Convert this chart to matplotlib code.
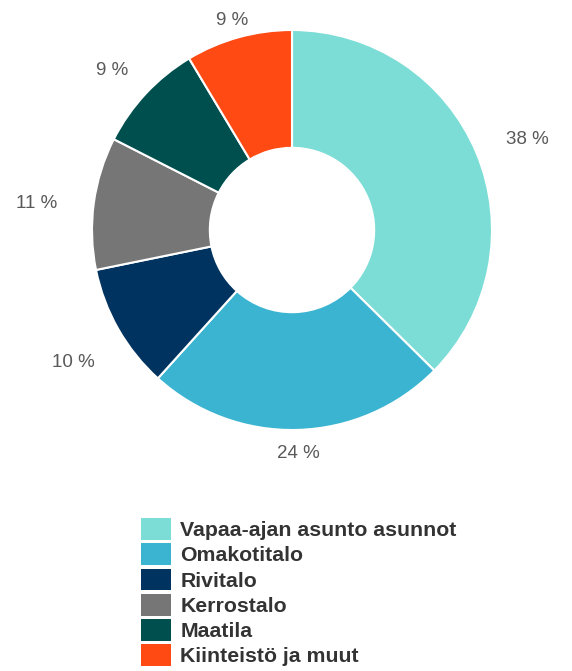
import numpy as np
import matplotlib
matplotlib.use("Agg")
from matplotlib import pyplot as plt
from matplotlib.patches import Patch

plt.rcParams['font.family'] = ['Liberation Sans', 'DejaVu Sans']

categories = ["Vapaa-ajan asunto asunnot", "Omakotitalo", "Rivitalo",
              "Kerrostalo", "Maatila", "Kiinteistö ja muut"]
shares = [37.4, 24.3, 10.1, 10.7, 8.9, 8.6]
share_labels = ["38 %", "24 %", "10 %", "11 %", "9 %", "9 %"]
colors = ["#7CDDD6", "#3BB4D1", "#00335F", "#767676", "#004F4F", "#FF4A14"]

fig = plt.figure(figsize=(5.72, 6.71), dpi=100)
W, H = 572, 671
cx, cy, R = 292, 230, 202
half = 250
ax = fig.add_axes([(cx - half) / W, (H - cy - half) / H, 2 * half / W, 2 * half / H])
lim = half / R
ax.set_xlim(-lim, lim)
ax.set_ylim(-lim, lim)
ax.set_aspect("equal")
ax.axis("off")

wedges, _ = ax.pie(shares, colors=colors, startangle=90, counterclock=False,
                   radius=1.0, wedgeprops=dict(width=(R - 83) / R, edgecolor="white", linewidth=1.5))

# labels just outside the ring, pushed further out where the text is wide
for w, lab in zip(wedges, share_labels):
    ang = np.deg2rad((w.theta1 + w.theta2) / 2)
    r = 1.07 + 0.22 * abs(np.cos(ang))
    ax.text(r * np.cos(ang), r * np.sin(ang) - 0.04, lab, ha="center", va="center",
            fontsize=13.5, color="#595959")

handles = [Patch(facecolor=c, edgecolor="none") for c in colors]
leg = fig.legend(handles, categories, loc="upper left",
                 bbox_to_anchor=(141 / W, (H - 518) / H), frameon=False,
                 borderpad=0, borderaxespad=0, handlelength=1.4, handleheight=1.2,
                 handletextpad=0.45, labelspacing=0.15,
                 prop=dict(size=15.3, weight="bold"))
for t in leg.get_texts():
    t.set_color("#333333")

fig.savefig("out.png", dpi=100)
